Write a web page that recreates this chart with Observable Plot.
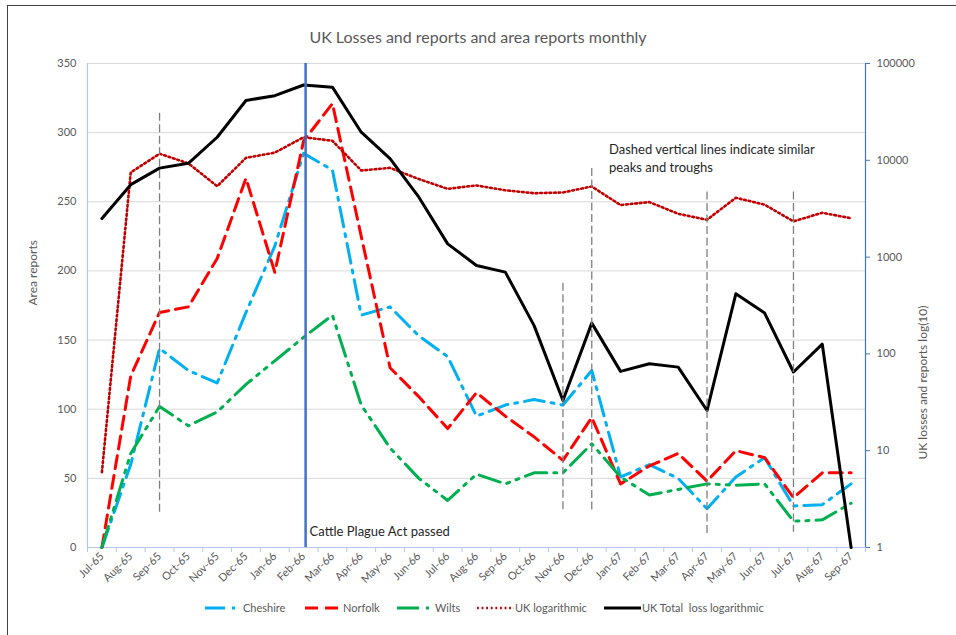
<!DOCTYPE html>
<html><head><meta charset="utf-8">
<script src="https://cdn.jsdelivr.net/npm/d3@7"></script>
<script src="https://cdn.jsdelivr.net/npm/@observablehq/plot@0.6"></script>
<style>
body{margin:0;background:#fff;font-family:Lato,"Open Sans",sans-serif;}
#wrap{position:relative;width:956px;height:635px;overflow:hidden;background:#fff;}
#frame{position:absolute;left:7px;top:5px;width:1000px;height:700px;border-left:1.5px solid #404040;border-top:1.5px solid #404040;}
#title{position:absolute;top:27px;left:0;width:956px;text-align:center;font-size:16px;color:#595959;}
#chart{position:absolute;left:0;top:0;}
.sw{position:absolute;top:603px;}
.lt{position:absolute;top:600px;font-size:11px;color:#595959;white-space:pre;line-height:16px;}
</style></head>
<body><div id="wrap"><div id="frame"></div><div id="chart"></div><div id="title"></div><div id="legend"></div></div>
<script>
const titleText = "UK Losses and reports and area reports monthly";
const months = ["Jul-65","Aug-65","Sep-65","Oct-65","Nov-65","Dec-65","Jan-66","Feb-66","Mar-66","Apr-66","May-66","Jun-66","Jul-66","Aug-66","Sep-66","Oct-66","Nov-66","Dec-66","Jan-67","Feb-67","Mar-67","Apr-67","May-67","Jun-67","Jul-67","Aug-67","Sep-67"];
const cheshire = [0,60,144,128,119,170,218,285,273,168,174,153,138,95,103,107,103,128,51,60,50,28,51,65,30,31,46];
const norfolk  = [0,124,170,174,209,267,199,294,321,225,130,109,86,112,95,80,63,94,46,59,68,48,70,65,36,54,54];
const wilts    = [0,68,102,88,98,118,135,152,168,103,72,50,34,53,46,54,54,75,51,38,42,46,45,46,19,20,32];
const ukLog    = [6,7500,11700,9300,5400,10600,12000,17300,15900,7850,8350,6400,5070,5500,4900,4570,4650,5370,3450,3700,2800,2430,4100,3480,2340,2870,2520];
const ukTotal  = [2500,5600,8300,9300,17300,41500,46500,60000,57000,19500,10400,4160,1370,820,700,196,33,208,66,79,73,26,418,264,65,126,1];
const leftTicks = [0,50,100,150,200,250,300,350];
const rightTickLabels = ["1","10","100","1000","10000","100000"];
const seriesNames = ["Cheshire","Norfolk","Wilts","UK logarithmic","UK Total  loss logarithmic"];
const dashedMonths = ["Sep-65","Nov-66","Dec-66","Apr-67","Jul-67"];
const dashedTop = [314,191,274,257,257];
const dashedBottom = [25,27,25,8,11];
const actMonth = "Feb-66";
const noteText = "Dashed vertical lines indicate similar\npeaks and troughs";
const actText = "Cattle Plague Act passed";
const leftLabel = "Area reports";
const rightLabel = "UK losses and reports log(10)";

// log axis mapped onto the 0..350 left range: 70 units per decade
const perDecade = 350 / (rightTickLabels.length - 1);
const toLeft = v => Math.log10(v) * perDecade;
const idx = m => months.indexOf(m);
const rows = vals => vals.map((v, i) => ({i, v}));

const styles = [
  {stroke:"#00B0F0", strokeWidth:3, strokeDasharray:"20,7,3,7"},
  {stroke:"#FF0000", strokeWidth:3, strokeDasharray:"13,7"},
  {stroke:"#00B050", strokeWidth:3, strokeDasharray:"22,7,3,7,3,7"},
  {stroke:"#C00000", strokeWidth:2.6, strokeDasharray:"1.8,2.8"},
  {stroke:"#000000", strokeWidth:3}
];

const boundaries = d3.range(months.length + 1).map(k => k - 0.5);

const chart = Plot.plot({
  width:956, height:635,
  marginLeft:87, marginRight:91, marginTop:63, marginBottom:88,
  style:{fontFamily:"Lato, 'Open Sans', sans-serif", fontSize:"11px", color:"#595959", background:"transparent", overflow:"visible"},
  x:{domain:[-0.5, months.length - 0.5]},
  y:{domain:[0, 350]},
  marks:[
    Plot.gridY(leftTicks, {stroke:"#D9D9D9", strokeOpacity:1, strokeWidth:1}),
    Plot.ruleX([-0.5], {stroke:"#B4C7E7", strokeWidth:1.2}),
    Plot.ruleY([0], {stroke:"#B4C7E7", strokeWidth:1.2}),
    Plot.ruleX([months.length - 0.5], {stroke:"#4472C4", strokeWidth:1.2}),
    Plot.axisY(leftTicks, {anchor:"left", tickSize:0, tickPadding:11, label:null, fill:"#595959"}),
    Plot.axisY(rightTickLabels.map((_, k) => k * perDecade), {anchor:"right", tickSize:4, tickPadding:7, stroke:"#4472C4", fill:"#595959", label:null, tickFormat:(d, k) => rightTickLabels[k]}),
    Plot.axisX(boundaries, {tickSize:5, stroke:"#B4C7E7", tickFormat:() => "", label:null}),
    Plot.axisX(months.map((_, i) => i), {tickSize:0, tickPadding:7, tickRotate:-45, tickFormat:i => months[i], label:null, fill:"#595959"}),
    Plot.text([leftLabel], {frameAnchor:"left", dx:-54, rotate:-90, fontSize:12, fill:"#595959"}),
    Plot.text([rightLabel], {frameAnchor:"right", dx:58, rotate:-90, fontSize:12, fill:"#595959"}),
    Plot.lineY(rows(cheshire), {x:"i", y:"v", ...styles[0]}),
    Plot.lineY(rows(norfolk), {x:"i", y:"v", ...styles[1]}),
    Plot.lineY(rows(wilts), {x:"i", y:"v", ...styles[2]}),
    Plot.lineY(rows(ukLog), {x:"i", y:d => toLeft(d.v), ...styles[3]}),
    Plot.lineY(rows(ukTotal), {x:"i", y:d => toLeft(d.v), ...styles[4]}),
    Plot.ruleX([actMonth], {x:idx, y1:0, y2:350, dx:2, stroke:"#4472C4", strokeWidth:2.5}),
    Plot.ruleX(dashedMonths, {x:idx, y1:(d, k) => dashedTop[k], y2:(d, k) => dashedBottom[k], stroke:"#7F7F7F", strokeWidth:1.3, strokeDasharray:"8,3.5"}),
    Plot.text([noteText], {x:17.6, y:282, textAnchor:"start", lineAnchor:"middle", lineHeight:1.38, fontSize:13, fill:"#262626"}),
    Plot.text([actText], {x:idx(actMonth), y:11.5, dx:6, textAnchor:"start", fontSize:13, fill:"#262626"})
  ]
});
document.getElementById("chart").appendChild(chart);
document.getElementById("title").textContent = titleText;

// legend
const legX = [205, 305, 397, 477, 604];
const legend = document.getElementById("legend");
seriesNames.forEach((name, k) => {
  const s = styles[k];
  const svg = d3.create("svg").attr("class","sw").attr("width",37).attr("height",10)
    .style("left", legX[k] + "px");
  svg.append("line").attr("x1",0).attr("x2",37).attr("y1",5).attr("y2",5)
    .attr("stroke", s.stroke).attr("stroke-width", s.strokeWidth)
    .attr("stroke-dasharray", s.strokeDasharray || null);
  legend.appendChild(svg.node());
  const t = document.createElement("div");
  t.className = "lt"; t.textContent = name;
  t.style.left = (legX[k] + 38) + "px";
  legend.appendChild(t);
});
</script></body></html>
